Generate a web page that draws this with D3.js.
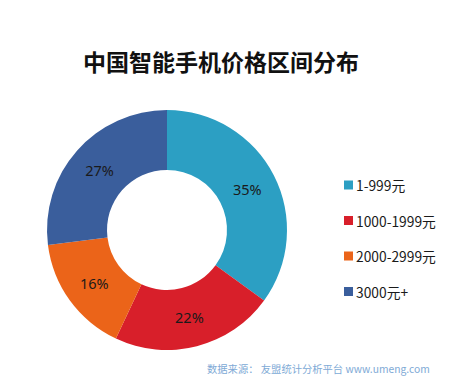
<!DOCTYPE html>
<html>
<head>
<meta charset="utf-8">
<style>
  body { margin: 0; background: #fff; }
  svg { display: block; }
</style>
<script src="https://cdn.jsdelivr.net/npm/d3@7"></script>
</head>
<body>
<script>
// data
var categories = ['1-999元', '1000-1999元', '2000-2999元', '3000元+'];
var shares     = [35, 22, 16, 27];
var colors     = ['#2c9fc3', '#d81f2a', '#eb6419', '#3a5e9c'];

var title  = '中国智能手机价格区间分布';
var source = '数据来源： 友盟统计分析平台 www.umeng.com';

var width = 475, height = 383;
var cx = 167, cy = 230, outer = 120, inner = 60;

var svg = d3.select('body').append('svg')
	.attr('width', width)
	.attr('height', height);

svg.append('text')
	.attr('x', 221).attr('y', 71)
	.attr('text-anchor', 'middle')
	.attr('font-family', '"Noto Sans CJK SC", sans-serif')
	.attr('font-weight', 'bold')
	.attr('font-size', 23)
	.attr('fill', '#111')
	.text(title);

var data = categories.map((c, i) => ({name: c, value: shares[i], color: colors[i]}));

var pie = d3.pie().sort(null).value(d => d.value);
var arc = d3.arc().innerRadius(inner).outerRadius(outer);
var labelArc = d3.arc().innerRadius(90).outerRadius(90);

var ring = svg.append('g')
	.attr('transform', `translate(${cx},${cy})`);

ring.selectAll('path')
	.data(pie(data))
	.join('path')
		.attr('d', arc)
		.attr('fill', d => d.data.color);

ring.selectAll('text')
	.data(pie(data))
	.join('text')
		.attr('transform', d => `translate(${labelArc.centroid(d)})`)
		.attr('text-anchor', 'middle')
		.attr('dominant-baseline', 'central')
		.attr('font-family', '"Noto Sans", sans-serif')
		.attr('font-size', 14.5)
		.attr('fill', '#1a1a1a')
		.text(d => d.data.value + '%');

// legend
var legend = svg.append('g')
	.attr('transform', 'translate(344,185)');

var row = legend.selectAll('g')
	.data(data)
	.join('g')
		.attr('transform', (d, i) => `translate(0,${i * 35.5})`);

row.append('rect')
	.attr('x', 0).attr('y', -4.5)
	.attr('width', 9).attr('height', 9)
	.attr('fill', d => d.color);

row.append('text')
	.attr('x', 12).attr('y', 0)
	.attr('dominant-baseline', 'central')
	.attr('font-family', '"Noto Sans CJK SC", sans-serif')
	.attr('font-size', 13.8)
	.attr('fill', '#1a1a1a')
	.text(d => d.name);

svg.append('text')
	.attr('x', 207).attr('y', 373)
	.attr('font-family', '"Noto Sans CJK SC", sans-serif')
	.attr('font-size', 10.3)
	.attr('fill', '#80aad6')
	.text(source);
</script>
</body>
</html>
